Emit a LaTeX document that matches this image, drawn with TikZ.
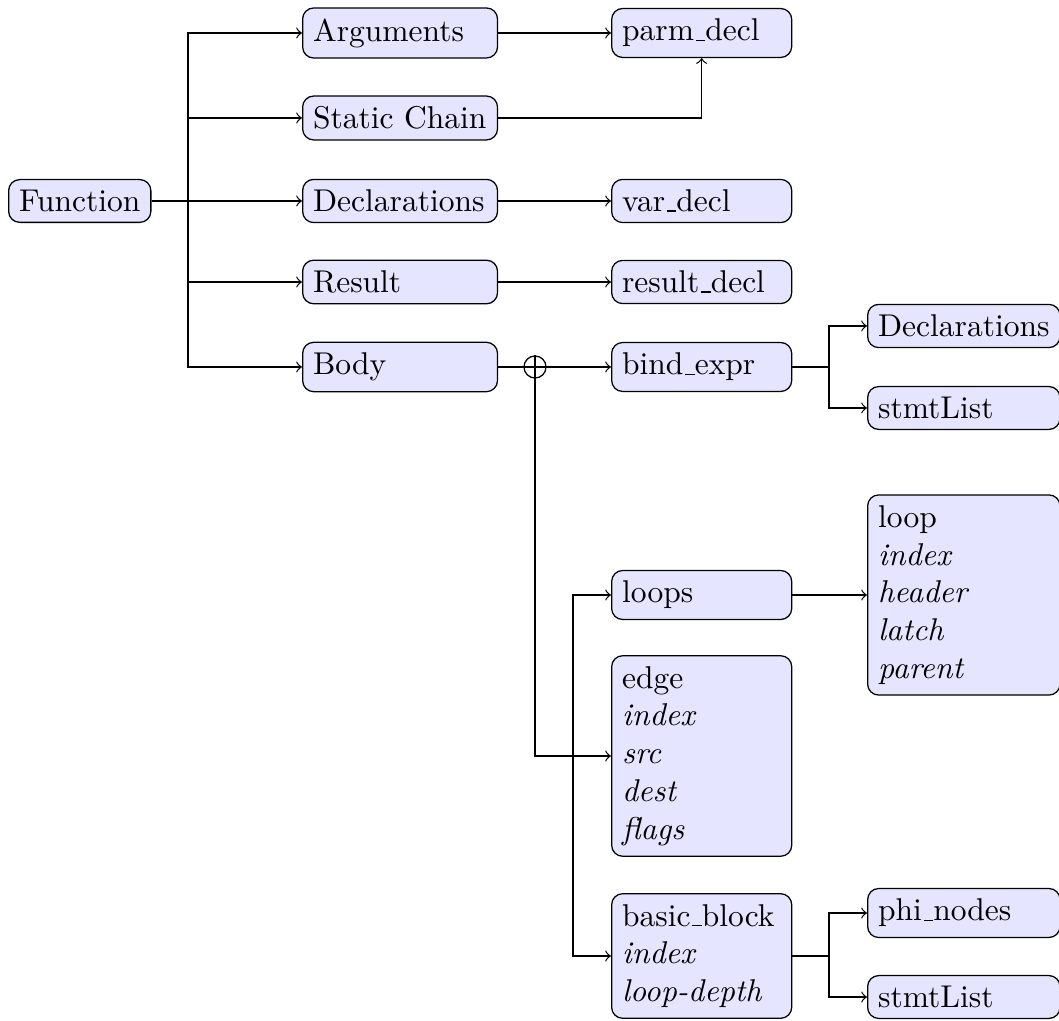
\documentclass[tikz,border=0pt]{standalone}
\begin{document}
% short rule underscore, as in the classic text encoding
\newcommand{\uscore}{\leavevmode\kern.06em\vbox{\hrule width.3em}}
\tikzset{
  box/.style={draw=black, fill=blue!10, rounded corners=3.5pt, anchor=west, align=left},
  colA/.style={box, text width=55.2pt},
  colB/.style={box, text width=50.5pt},
  colC/.style={box, text width=54.4pt},
  link/.style={->},
}
\begin{tikzpicture}[x=0.31746pt, y=-0.31746pt]
\useasboundingbox (0,0) rectangle (1059,1021);

% root
\node[box] (fn) at (8,201) {Function};

% first level
\node[colA] (args)  at (302,33)  {Arguments};
\node[colA] (chain) at (302,118) {Static Chain};
\node[colA] (decls) at (302,201) {Declarations};
\node[colA] (res)   at (302,282) {Result};
\node[colA] (body)  at (302,367) {Body};

% second level
\node[colB] (parm)  at (611,33)  {parm\uscore decl};
\node[colB] (var)   at (611,201) {var\uscore decl};
\node[colB] (resd)  at (611,282) {result\uscore decl};
\node[colB] (bind)  at (611,367) {bind\uscore expr};
\node[colB] (loops) at (611,595) {loops};
\node[colB] (edge)  at (611,756) {edge\\\textit{index}\\\textit{src}\\\textit{dest}\\\textit{flags}};
\node[colB] (bb)    at (611,956) {basic\uscore block\\\textit{index}\\\textit{loop-depth}};

% third level
\node[colC] (bdecl)  at (867,326) {Declarations};
\node[colC] (bstmt)  at (867,408) {stmtList};
\node[colC] (loop)   at (867,595) {loop\\\textit{index}\\\textit{header}\\\textit{latch}\\\textit{parent}};
\node[colC] (phi)    at (867,913) {phi\uscore nodes};
\node[colC] (bbstmt) at (867,997) {stmtList};

% the body splitter
\node[draw, circle, minimum size=7pt, inner sep=0pt] (op) at (535,367) {};
\draw (op.north) -- (op.south) (op.west) -- (op.east);

% junction points
\coordinate (fj) at (188,201);
\coordinate (lj) at (573,595);
\coordinate (bj) at (829,367);
\coordinate (kj) at (829,956);

% connectors
\foreach \n in {args,chain,decls,res,body}
  \draw[link] (fn.east) -- (fj) |- (\n.west);
\draw[link] (args.east) -- (parm.west);
\draw[link] (chain.east) -| (parm.south);
\draw[link] (decls.east) -- (var.west);
\draw[link] (res.east) -- (resd.west);
\draw (body.east) -- (op.west);
\draw[link] (op.east) -- (bind.west);
\draw[link] (op.south) |- (edge.west);
\draw[<->] (loops.west) -- (lj) |- (bb.west);
\draw[link] (loops.east) -- (loop.west);
\draw[link] (bind.east) -- (bj) |- (bdecl.west);
\draw[link] (bj) |- (bstmt.west);
\draw[link] (bb.east) -- (kj) |- (phi.west);
\draw[link] (kj) |- (bbstmt.west);
\end{tikzpicture}
\end{document}
